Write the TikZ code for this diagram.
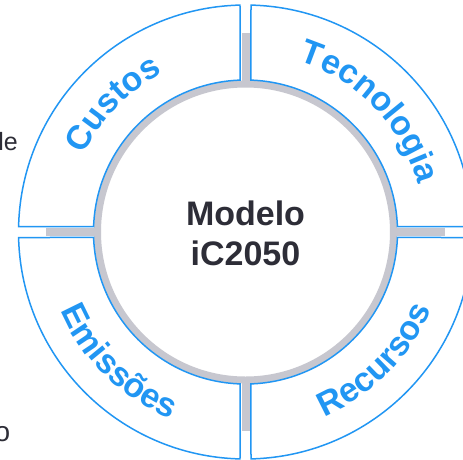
\documentclass[tikz,border=0pt]{standalone}
\usepackage{fontspec}
\setmainfont{Liberation Sans}
\usetikzlibrary{decorations.text}
\definecolor{ringblue}{RGB}{33,150,243}
\definecolor{ringgray}{RGB}{199,199,207}
\definecolor{txtgray}{RGB}{45,45,55}

\begin{document}
\begin{tikzpicture}[x=1pt,y=1pt,
		seg/.style={draw=ringblue,line width=1.5pt,fill=white},
		bar/.style={fill=ringgray,draw=none},
		ringtext/.style={decorate,decoration={text along path,text color=ringblue,text align=center,text={|\fontsize{34}{34}\selectfont\bfseries|#1}}}]
			\useasboundingbox (-245.5,-227) rectangle (217.5,232);
			% bars in the gaps
			\fill[bar] (-4,-199) rectangle (4,199);
			\fill[bar] (-199,-4) rectangle (199,4);
			% centre circle
			\draw[ringgray,line width=7pt,fill=white] (0,0) circle (148pt);
			\node[align=center,text=txtgray,font=\fontsize{34}{40}\selectfont\bfseries] (model) at (0,-1) {Modelo\\iC2050};
			% four segments
			\draw[seg] (2.07:152pt) -- (1.39:227pt) arc[start angle=1.39,end angle=88.61,radius=227pt] -- (87.93:152pt) arc[start angle=87.93,end angle=2.07,radius=152pt] -- cycle;
			\draw[seg] (92.07:152pt) -- (91.39:227pt) arc[start angle=91.39,end angle=178.61,radius=227pt] -- (177.93:152pt) arc[start angle=177.93,end angle=92.07,radius=152pt] -- cycle;
			\draw[seg] (182.07:152pt) -- (181.39:227pt) arc[start angle=181.39,end angle=268.61,radius=227pt] -- (267.93:152pt) arc[start angle=267.93,end angle=182.07,radius=152pt] -- cycle;
			\draw[seg] (272.07:152pt) -- (271.39:227pt) arc[start angle=271.39,end angle=358.61,radius=227pt] -- (357.93:152pt) arc[start angle=357.93,end angle=272.07,radius=152pt] -- cycle;
			% labels on the ring
			\path[ringtext=Custos] (176:179pt) arc[start angle=176,end angle=96,radius=179pt];
			\path[ringtext=Tecnologia] (89:179pt) arc[start angle=89,end angle=-1,radius=179pt];
			\path[ringtext=Emissões] (185.6:201pt) arc[start angle=185.6,end angle=265.6,radius=201pt];
			\path[ringtext=Recursos] (275.3:201pt) arc[start angle=275.3,end angle=355.3,radius=201pt];
			% cut text at the left edge
			\node[anchor=base east,inner sep=0pt,text=txtgray,font=\fontsize{25}{25}\selectfont] (le) at (-227.5,82) {le};
			\node[anchor=base east,inner sep=0pt,text=txtgray,font=\fontsize{28}{28}\selectfont] (o) at (-235,-209) {o};
		\end{tikzpicture}
\end{document}
